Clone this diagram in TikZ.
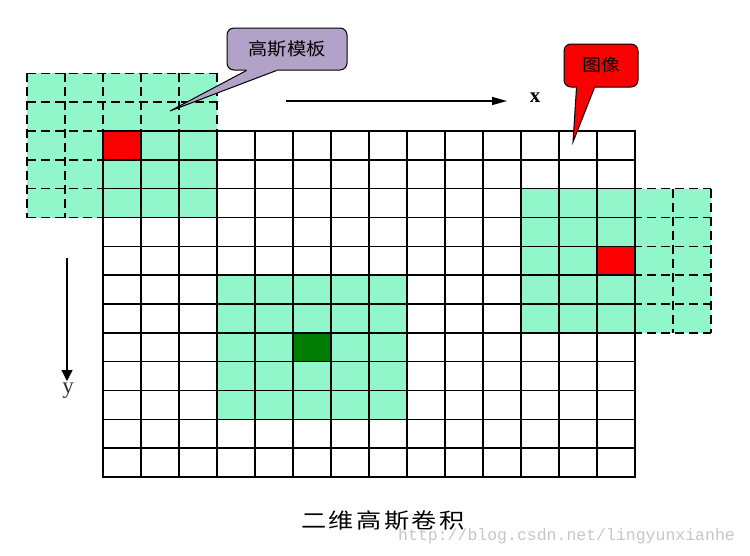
\documentclass[tikz,border=0pt]{standalone}
\usepackage{fontspec}
\setmainfont{Liberation Serif}
\newfontfamily\cjk{Noto Sans CJK SC}
\newfontfamily\wmfont{Liberation Mono}
\usetikzlibrary{arrows.meta,calc}
\definecolor{lgreen}{RGB}{145,246,202}
\definecolor{dgreen}{RGB}{0,125,0}
\definecolor{cred}{RGB}{250,0,0}
\definecolor{lav}{RGB}{178,162,199}
\tikzset{
  gridline/.style={line width=1.5pt, line cap=rect},
  dashline/.style={line width=1.6pt, dash pattern=on 9pt off 5pt},
  callbox/.style={draw=black, line width=1pt, rounded corners=7pt, minimum width=#1, minimum height=42pt, inner sep=0pt},
  cjktext/.style={xscale=1.1},
  axisarrow/.style={line width=1.3pt},
}
\newcommand{\cx}[1]{103+38*(#1)}
\newcommand{\cy}[1]{131+28.8333*(#1)}
\newcommand{\tmplpatch}[2]{%
  \fill[lgreen] ({\cx{#1}},{\cy{#2}}) rectangle ({\cx{#1+5}},{\cy{#2+5}});
  \foreach \k in {0,...,5} {
    \draw[dashline] ({\cx{#1+\k}},{\cy{#2}}) -- ({\cx{#1+\k}},{\cy{#2+5}});
    \draw[dashline] ({\cx{#1}},{\cy{#2+\k}}) -- ({\cx{#1+5}},{\cy{#2+\k}});
  }
}
\newcommand{\paintcell}[3]{\fill[#3] ({\cx{#1}},{\cy{#2}}) rectangle ({\cx{#1+1}},{\cy{#2+1}});}
\begin{document}
\begin{tikzpicture}[x=1pt,y=-1pt]
\useasboundingbox (0,0) rectangle (750,555);
\fill[white] (0,0) rectangle (750,555);
% template patches
\tmplpatch{-2}{-2}
\tmplpatch{11}{2}
\tmplpatch{3}{5}
% special cells
\paintcell{0}{0}{cred}
\paintcell{13}{4}{cred}
\paintcell{5}{7}{dgreen}
% main grid
\foreach \i in {0,...,14}
  \draw[gridline] ({\cx{\i}},{\cy{0}}) -- ({\cx{\i}},{\cy{12}});
\foreach \j in {0,...,12}
  \draw[gridline] ({\cx{0}},{\cy{\j}}) -- ({\cx{14}},{\cy{\j}});
% axes
\coordinate (xs) at (286,101);
\coordinate (xe) at (507,101);
\draw[axisarrow,-{Triangle[length=15pt,width=8pt]}] (xs) -- (xe);
\node[font=\bfseries\fontsize{21}{21}\selectfont] (xlab) at (535,98) {x};
\coordinate (ys) at (67,258);
\coordinate (ye) at (67,381);
\draw[axisarrow,-{Triangle[length=11pt,width=11pt]}] (ys) -- (ye);
\node[font=\fontsize{23}{23}\selectfont, text=black!80] (ylab) at (68,391) {y};
% callout: template
\node[callbox=120pt, fill=lav] (tmpl) at (287,49) {};
\node[cjktext, font=\cjk\fontsize{17.5}{17.5}\selectfont] (tmpltext) at (tmpl.center) {高斯模板};
\coordinate (tmpltip) at (170,111);
\fill[lav] ($(tmpl.south west)+(20,-2)$) -- ($(tmpl.south west)+(20,0)$) -- (tmpltip) -- ($(tmpl.south west)+(50,0)$) -- ($(tmpl.south west)+(50,-2)$) -- cycle;
\draw[line width=1pt] ($(tmpl.south west)+(20,0)$) -- (tmpltip) -- ($(tmpl.south west)+(50,0)$);
% callout: image
\node[callbox=74pt, fill=cred, minimum height=43pt] (img) at (601,65.5) {};
\node[cjktext, font=\cjk\fontsize{17}{17}\selectfont] (imgtext) at (img.center) {图像};
\coordinate (imgtip) at (573,142);
\fill[cred] ($(img.south west)+(13,-2)$) -- ($(img.south west)+(13,0)$) -- (imgtip) -- ($(img.south west)+(31,0)$) -- ($(img.south west)+(31,-2)$) -- cycle;
\draw[line width=1pt] ($(img.south west)+(13,0)$) -- (imgtip) -- ($(img.south west)+(31,0)$);
% caption and watermark
\node[xscale=1.2, font=\cjk\fontsize{21}{21}\selectfont] (caption) at (383,521) {二\hspace{2pt}维\hspace{2pt}高\hspace{2pt}斯\hspace{2pt}卷\hspace{2pt}积};
\node[font=\wmfont\fontsize{16.5}{16.5}\selectfont, text=black!22, anchor=west, inner sep=0pt] (wm) at (398,536) {http://blog.csdn.net/lingyunxianhe};
\end{tikzpicture}
\end{document}
